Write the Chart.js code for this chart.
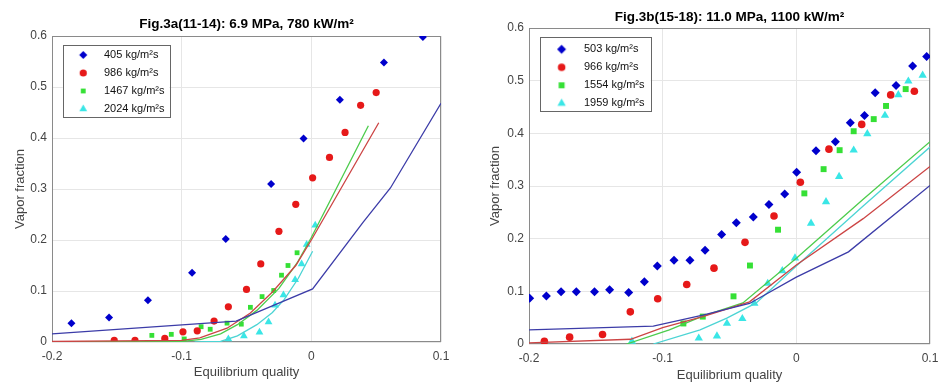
<!DOCTYPE html>
<html><head><meta charset="utf-8">
<script src="https://cdn.jsdelivr.net/npm/chart.js@4.4.1/dist/chart.umd.min.js"></script>
<style>
html,body{margin:0;padding:0;background:#fff;width:938px;height:383px;overflow:hidden}
canvas{position:absolute;top:0}
#c1{left:0}#c2{left:470px}
</style></head>
<body>
<canvas id="c1" width="470" height="383"></canvas>
<canvas id="c2" width="468" height="383"></canvas>
<script>
// ---------- Fig.3a data ----------
const aTitle = 'Fig.3a(11-14): 6.9 MPa, 780 kW/m²';
const aLabels = ['405 kg/m²s', '986 kg/m²s', '1467 kg/m²s', '2024 kg/m²s'];
const a405X = [-0.185, -0.156, -0.126, -0.092, -0.066, -0.031, -0.006, 0.022, 0.056, 0.086];
const a405Y = [0.037, 0.048, 0.082, 0.136, 0.202, 0.310, 0.399, 0.475, 0.548, 0.598];
const a986X = [-0.152, -0.136, -0.113, -0.099, -0.088, -0.075, -0.064, -0.050, -0.039, -0.025, -0.012, 0.001, 0.014, 0.026, 0.038, 0.050];
const a986Y = [0.003, 0.003, 0.007, 0.020, 0.022, 0.041, 0.069, 0.103, 0.153, 0.217, 0.270, 0.322, 0.362, 0.411, 0.464, 0.489];
const a1467X = [-0.123, -0.108, -0.098, -0.085, -0.078, -0.065, -0.054, -0.047, -0.038, -0.029, -0.023, -0.018, -0.011];
const a1467Y = [0.013, 0.015, 0.006, 0.030, 0.025, 0.037, 0.035, 0.068, 0.089, 0.101, 0.131, 0.150, 0.175];
const a2024X = [-0.064, -0.052, -0.040, -0.033, -0.028, -0.0215, -0.0125, -0.0075, -0.0036, 0.003];
const a2024Y = [0.006, 0.012, 0.019, 0.039, 0.072, 0.092, 0.122, 0.153, 0.191, 0.229];
// model curves
const aL405X = [-0.2, -0.058, 0.001, 0.040, 0.061, 0.1];
const aL405Y = [0.016, 0.041, 0.104, 0.235, 0.302, 0.468];
const aL986X = [-0.2, -0.1, -0.086, -0.065, -0.047, -0.03, -0.012, 0, 0.052];
const aL986Y = [0.001, 0.003, 0.008, 0.027, 0.057, 0.098, 0.150, 0.200, 0.430];
const aL1467X = [-0.2, -0.1, -0.085, -0.07, -0.057, -0.042, -0.025, -0.011, 0, 0.044];
const aL1467Y = [0, 0.001, 0.005, 0.016, 0.034, 0.062, 0.105, 0.155, 0.205, 0.424];
const aL2024X = [-0.09, -0.07, -0.057, -0.042, -0.03, -0.021, -0.01, 0.001];
const aL2024Y = [0, 0.001, 0.012, 0.034, 0.058, 0.083, 0.125, 0.178];

// ---------- Fig.3b data ----------
const bTitle = 'Fig.3b(15-18): 11.0 MPa, 1100 kW/m²';
const bLabels = ['503 kg/m²s', '966 kg/m²s', '1554 kg/m²s', '1959 kg/m²s'];
const b503X = [-0.1995, -0.187, -0.176, -0.1646, -0.151, -0.1397, -0.1254, -0.1137, -0.104, -0.0915, -0.0796, -0.0683, -0.0559, -0.0449, -0.0322, -0.0205, -0.0087, 0.0002, 0.0147, 0.0292, 0.0404, 0.051, 0.059, 0.0746, 0.087, 0.0975];
const b503Y = [0.087, 0.091, 0.099, 0.099, 0.099, 0.103, 0.098, 0.118, 0.148, 0.159, 0.159, 0.178, 0.208, 0.230, 0.241, 0.265, 0.285, 0.326, 0.367, 0.384, 0.420, 0.434, 0.477, 0.491, 0.528, 0.546];
const b966X = [-0.1885, -0.1696, -0.145, -0.1242, -0.1037, -0.082, -0.0616, -0.0384, -0.0167, 0.003, 0.0244, 0.0489, 0.0706, 0.0883];
const b966Y = [0.005, 0.013, 0.018, 0.061, 0.086, 0.113, 0.144, 0.193, 0.243, 0.307, 0.370, 0.417, 0.473, 0.480];
const b1554X = [-0.0845, -0.070, -0.047, -0.0347, -0.0137, 0.006, 0.0204, 0.0324, 0.0429, 0.0579, 0.0671, 0.0818];
const b1554Y = [0.039, 0.052, 0.0905, 0.149, 0.217, 0.286, 0.332, 0.368, 0.404, 0.427, 0.452, 0.484];
const b1959X = [-0.123, -0.073, -0.0594, -0.0519, -0.0404, -0.0314, -0.0214, -0.0105, -0.001, 0.011, 0.0222, 0.032, 0.0429, 0.0531, 0.0663, 0.0763, 0.0838, 0.0945];
const b1959Y = [0.005, 0.011, 0.015, 0.039, 0.048, 0.077, 0.115, 0.139, 0.163, 0.229, 0.270, 0.318, 0.368, 0.399, 0.434, 0.473, 0.499, 0.510];
// model curves
const bL503X = [-0.2, -0.107, -0.07, -0.035, 0, 0.039, 0.1];
const bL503Y = [0.027, 0.034, 0.055, 0.077, 0.127, 0.175, 0.301];
const bL966X = [-0.2, -0.124, -0.1, -0.07, -0.035, 0, 0.05, 0.1];
const bL966Y = [0.002, 0.009, 0.031, 0.052, 0.080, 0.150, 0.238, 0.337];
const bL1554X = [-0.127, -0.095, -0.07, -0.04, 0, 0.05, 0.1];
const bL1554Y = [0, 0.027, 0.053, 0.078, 0.163, 0.275, 0.384];
const bL1959X = [-0.107, -0.072, -0.052, -0.03, 0, 0.05, 0.1];
const bL1959Y = [0, 0.027, 0.049, 0.078, 0.148, 0.262, 0.374];

// ---------- axes ----------
const xMin = -0.2, xMax = 0.1, xStep = 0.1;
const yMin = 0, yMax = 0.6, yStep = 0.1;
const xTitle = 'Equilibrium quality';
const yTitle = 'Vapor fraction';

// ---------- styling ----------
const markerColors = ['#0000cc', '#e61919', '#35e035', '#3ae6e6'];
const lineColors = ['#3c3ca8', '#cc4444', '#4ccc4c', '#4cd4d4'];
const markerStyles = ['rectRot', 'circle', 'rect', 'triangle'];

Chart.defaults.font.family = "'Liberation Sans', Arial, Helvetica, sans-serif";

const pts = (xs, ys) => xs.map((x, i) => ({x: x, y: ys[i]}));
const fmt = v => { const r = Math.round(v * 10) / 10; return r === 0 ? '0' : String(r); };

function makeIcon(style, r, color, offset) {
  const w = 2 * Math.ceil(Math.abs(offset) + r + 2), h = 2 * Math.ceil(r + 2);
  const c = document.createElement('canvas'); c.width = w; c.height = h;
  const ctx = c.getContext('2d');
  ctx.fillStyle = color; ctx.strokeStyle = color;
  Chart.helpers.drawPoint(ctx, {pointStyle: style, radius: r, rotation: 0, borderWidth: 0}, w / 2 + offset, h / 2);
  return c;
}

const frame = {
  id: 'frame',
  beforeDatasetsDraw(chart) {
    const a = chart.chartArea, ctx = chart.ctx;
    ctx.save(); ctx.strokeStyle = '#8a8a8a'; ctx.lineWidth = 1;
    ctx.strokeRect(Math.round(a.left) + 0.5, Math.round(a.top) + 0.5, Math.round(a.right - a.left) - 1, Math.round(a.bottom - a.top) - 1);
    ctx.restore();
  }
};
const legendBox = {
  id: 'legendBox',
  afterDraw(chart, args, o) {
    const lg = chart.legend; if (!lg || !lg.legendHitBoxes.length) return;
    const hb = lg.legendHitBoxes;
    const l = Math.min(...hb.map(h => h.left)) + o.l;
    const t = Math.min(...hb.map(h => h.top)) - o.t;
    const r = Math.max(...hb.map(h => h.left + h.width)) + o.r;
    const b = Math.max(...hb.map(h => h.top + h.height)) + o.b;
    const ctx = chart.ctx;
    ctx.save();
    ctx.fillStyle = '#fff';
    ctx.fillRect(l, t, r - l, b - t);
    ctx.strokeStyle = '#666'; ctx.lineWidth = 1;
    ctx.strokeRect(Math.round(l) + 0.5, Math.round(t) + 0.5, Math.round(r - l), Math.round(b - t));
    ctx.restore();
    lg.draw();
  }
};

function build(id, o) {
  const datasets = [];
  o.series.forEach((s, i) => datasets.push({
    label: o.labels[i], data: pts(s[0], s[1]), showLine: false,
    pointStyle: markerStyles[i], pointRadius: o.radii[i], pointHoverRadius: o.radii[i],
    backgroundColor: markerColors[i], borderColor: markerColors[i], pointBorderWidth: 0, borderWidth: 0, order: 1
  }));
  o.lines.forEach((l, i) => datasets.push({
    label: '', data: pts(l[0], l[1]), showLine: true, pointRadius: 0, pointHoverRadius: 0,
    borderColor: lineColors[i], backgroundColor: lineColors[i], borderWidth: 1.3, fill: false, tension: 0, order: 0
  }));
  const icons = o.labels.map((_, i) => makeIcon(markerStyles[i], o.radii[i], markerColors[i], o.iconOffset));
  return new Chart(document.getElementById(id), {
    type: 'scatter',
    data: {datasets},
    plugins: [frame, legendBox],
    options: {
      responsive: false, animation: false, devicePixelRatio: 1, events: [],
      layout: {padding: {left: 0, top: 0, right: o.padRight, bottom: 0}},
      plugins: {
        tooltip: {enabled: false},
        title: {display: true, text: o.title, fullSize: false, color: '#000',
          font: {size: 13.5, weight: 'bold'}, padding: {top: o.titleTop, bottom: o.titleBottom}},
        legend: {
          position: 'chartArea', align: 'start',
          title: {display: true, text: ' ', font: {size: 5}, padding: {top: o.legendShift, bottom: 0}},
          labels: {
            usePointStyle: true, pointStyleWidth: o.legendW, padding: 7, color: '#111', font: {size: 11},
            generateLabels(chart) {
              const items = Chart.defaults.plugins.legend.labels.generateLabels(chart);
              return items.filter(it => chart.data.datasets[it.datasetIndex].showLine === false)
                .map(it => Object.assign(it, {pointStyle: icons[it.datasetIndex], fontColor: '#111'}));
            }
          }
        },
        legendBox: o.box
      },
      scales: {
        x: {
          type: 'linear', min: xMin, max: xMax,
          ticks: {stepSize: xStep, padding: 7, color: '#444', font: {size: 12}, callback: fmt},
          grid: {color: '#e6e6e6', drawTicks: false},
          border: {display: false},
          title: {display: true, text: xTitle, color: '#444', font: {size: 13}, padding: {top: 0, bottom: o.xTitleBottom}},
          afterFit: s => { s.height = o.xAxisH; s.paddingLeft = 0; s.paddingRight = 0; }
        },
        y: {
          type: 'linear', min: yMin, max: yMax,
          ticks: {stepSize: yStep, padding: 5, color: '#444', font: {size: 12}, callback: fmt},
          grid: {color: '#e6e6e6', drawTicks: false},
          border: {display: false},
          title: {display: true, text: yTitle, color: '#444', font: {size: 13}, padding: {top: o.yTitleLeft, bottom: 0}},
          afterFit: s => { s.width = o.yAxisW; s.paddingTop = 0; s.paddingBottom = 0; }
        }
      }
    }
  });
}

build('c1', {
  title: aTitle, labels: aLabels,
  series: [[a405X, a405Y], [a986X, a986Y], [a1467X, a1467Y], [a2024X, a2024Y]],
  lines: [[aL405X, aL405Y], [aL986X, aL986Y], [aL1467X, aL1467Y], [aL2024X, aL2024Y]],
  radii: [4, 3.6, 3.4, 4.5],
  padRight: 29, titleTop: 15.9, titleBottom: 3.9,
  xAxisH: 41, xTitleBottom: 3.2, yAxisW: 52, yTitleLeft: 12.2,
  legendShift: 36.5, legendW: 39.5, iconOffset: 4.5,
  box: {l: 3.7, t: 4.5, r: 4.8, b: 2.2}
});
build('c2', {
  title: bTitle, labels: bLabels,
  series: [[b503X, b503Y], [b966X, b966Y], [b1554X, b1554Y], [b1959X, b1959Y]],
  lines: [[bL503X, bL503Y], [bL966X, bL966Y], [bL1554X, bL1554Y], [bL1959X, bL1959Y]],
  radii: [4.5, 3.8, 4.2, 4.8],
  padRight: 8, titleTop: 8.9, titleBottom: 2.9,
  xAxisH: 39, xTitleBottom: 0.2, yAxisW: 59, yTitleLeft: 17.2,
  legendShift: 30.8, legendW: 42.5, iconOffset: 4.4,
  box: {l: 4, t: 6.5, r: 6.2, b: 2.9}
});
</script>
</body></html>
